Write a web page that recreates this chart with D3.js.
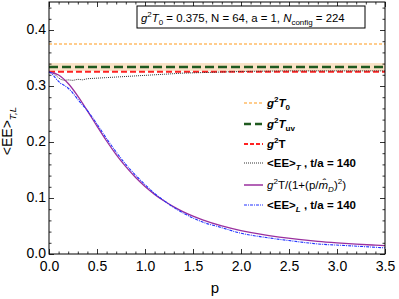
<!DOCTYPE html>
<html>
<head>
<meta charset="utf-8">
<script src="https://cdn.jsdelivr.net/npm/d3@7"></script>
<style>
  body { margin: 0; background: #fff; }
  svg { display: block; font-family: "Liberation Sans", Arial, sans-serif; }
</style>
</head>
<body>
<svg id="chart" width="399" height="299"></svg>
<script>
"use strict"

const WIDTH = 399;
const HEIGHT = 299;
const PLOT = { left: 49, right: 385, top: 2, bottom: 254 };

// constant levels
const G2T0 = 0.375;
const G2TUV = 0.334;
const G2T = 0.3255;
const TUV_BAND = [0.327, 0.341];

// <EE>_T , t/a = 140 (black dotted)
const EET_P = [0, 0.03, 0.06, 0.09, 0.12, 0.16, 0.2, 0.25, 0.3, 0.35, 0.4, 0.5, 0.6, 0.7, 0.8, 1.0, 1.2, 1.4, 1.6, 1.8, 2.0, 2.5, 3.0, 3.5];
const EET_V = [0.325, 0.324, 0.321, 0.316, 0.312, 0.310, 0.311, 0.310, 0.312, 0.311, 0.313, 0.314, 0.315, 0.316, 0.317, 0.319, 0.321, 0.323, 0.324, 0.325, 0.326, 0.327, 0.327, 0.327];

// g^2T/(1+(p/mD)^2) (purple)
const FIT_P = [0, 0.1, 0.2, 0.3, 0.4, 0.5, 0.6, 0.7, 0.8, 0.9, 1.0, 1.1, 1.2, 1.3, 1.4, 1.5, 1.6, 1.8, 2.0, 2.2, 2.4, 2.6, 2.8, 3.0, 3.2, 3.4, 3.5];
const FIT_V = [0.325, 0.3196, 0.3044, 0.2820, 0.2557, 0.2283, 0.2018, 0.1775, 0.1559, 0.1370, 0.1206, 0.1065, 0.0945, 0.0841, 0.0752, 0.0675, 0.0609, 0.0501, 0.0418, 0.0353, 0.0302, 0.0261, 0.0227, 0.0200, 0.0177, 0.0158, 0.0149];

// <EE>_L , t/a = 140 (blue dash-dot)
const EEL_P = [0, 0.03, 0.06, 0.09, 0.12, 0.15, 0.2, 0.25, 0.3, 0.35, 0.4, 0.5, 0.6, 0.7, 0.8, 0.9, 1.0, 1.1, 1.2, 1.3, 1.4, 1.6, 1.8, 2.0, 2.2, 2.5, 2.8, 3.1, 3.5];
const EEL_V = [0.325, 0.322, 0.316, 0.310, 0.305, 0.302, 0.296, 0.287, 0.276, 0.266, 0.256, 0.232, 0.206, 0.182, 0.160, 0.141, 0.124, 0.108, 0.095, 0.083, 0.073, 0.057, 0.047, 0.037, 0.031, 0.024, 0.018, 0.015, 0.011];

const X_TICKS = [0, 0.5, 1.0, 1.5, 2.0, 2.5, 3.0, 3.5];
const Y_TICKS = [0, 0.1, 0.2, 0.3, 0.4];

const svg = d3.select("#chart");
const x = d3.scaleLinear([0, 3.5], [PLOT.left, PLOT.right]);
const y = d3.scaleLinear([0, 0.45], [PLOT.bottom, PLOT.top]);

// write text made of pieces: {t, sup, sub, it}
function richText(g, parts, size) {
    const text = g.append("text").attr("font-size", size);
    let shift = 0;
    for (const p of parts) {
        let want = p.sup ? -0.4 * size : (p.sub ? 0.25 * size : 0);
        const ts = text.append("tspan").text(p.t)
            .attr("dy", want - shift)
            .attr("font-size", (p.sup || p.sub) ? size * 0.7 : size);
        if (p.it) ts.attr("font-style", "italic");
        if (p.w) ts.attr("font-weight", p.w);
        shift = want;
    }
    return text;
}

// band and constant lines
svg.append("rect")
    .attr("x", PLOT.left).attr("width", PLOT.right - PLOT.left)
    .attr("y", y(TUV_BAND[1])).attr("height", y(TUV_BAND[0]) - y(TUV_BAND[1]))
    .attr("fill", "#f9e2c6");

function hline(v, color, dash, w) {
    svg.append("line")
        .attr("x1", PLOT.left).attr("x2", PLOT.right)
        .attr("y1", y(v)).attr("y2", y(v))
        .attr("stroke", color).attr("stroke-width", w)
        .attr("stroke-dasharray", dash);
}
hline(G2T0, "#ff9a1a", "3,2", 1.2);
hline(G2TUV, "#1f5a1f", "9,4", 2.6);
hline(G2T, "#ff2222", "6,3", 2);

const line = d3.line().x(d => x(d[0])).y(d => y(d[1]));
const zip = (a, b) => a.map((v, i) => [v, b[i]]);

svg.append("path").attr("d", line(zip(EET_P, EET_V)))
    .attr("fill", "none").attr("stroke", "#333").attr("stroke-width", 1)
    .attr("stroke-dasharray", "1,1");
svg.append("path").attr("d", line.curve(d3.curveMonotoneX)(zip(FIT_P, FIT_V)))
    .attr("fill", "none").attr("stroke", "#9a2f9e").attr("stroke-width", 1.3);
svg.append("path").attr("d", line(zip(EEL_P, EEL_V)))
    .attr("fill", "none").attr("stroke", "#2233ff").attr("stroke-width", 1.1)
    .attr("stroke-dasharray", "3,1,1,1");

// axes, ticks pointing inward
const xMinor = d3.range(0, 3.51, 0.1).filter(v => Math.abs(v * 2 - Math.round(v * 2)) > 0.01);
const yMinor = d3.range(0, 0.451, 0.02).filter(v => Math.abs(v * 10 - Math.round(v * 10)) > 0.01);

function addAxis(axisFn, scale, pos, major, minor, labels) {
    const g = svg.append("g").attr("transform", pos);
    g.call(axisFn(scale).tickValues(minor).tickSize(-2.5).tickFormat(""));
    const g2 = svg.append("g").attr("transform", pos);
    const ax = axisFn(scale).tickValues(major).tickSize(-5);
    if (labels) ax.tickFormat(d3.format(".1f")).tickPadding(labels);
    else ax.tickFormat("");
    g2.call(ax);
    for (const gg of [g, g2]) {
        gg.select(".domain").remove();
        gg.selectAll("line").attr("stroke", "#000").attr("stroke-width", 0.8);
        gg.selectAll("text").attr("font-size", 14).attr("fill", "#000")
            .attr("font-family", "Liberation Sans, Arial, sans-serif");
    }
    return g2;
}
addAxis(d3.axisBottom, x, `translate(0,${PLOT.bottom})`, X_TICKS, xMinor, 7);
addAxis(d3.axisTop, x, `translate(0,${PLOT.top})`, X_TICKS, xMinor, 0);
addAxis(d3.axisLeft, y, `translate(${PLOT.left},0)`, Y_TICKS, yMinor, 3)
    .selectAll("text").attr("dy", "0.28em");
addAxis(d3.axisRight, y, `translate(${PLOT.right},0)`, Y_TICKS, yMinor, 0);

svg.append("rect")
    .attr("x", PLOT.left).attr("y", PLOT.top)
    .attr("width", PLOT.right - PLOT.left).attr("height", PLOT.bottom - PLOT.top)
    .attr("fill", "none").attr("stroke", "#000").attr("stroke-width", 1);

// axis titles
svg.append("text").attr("x", 215).attr("y", 293).attr("text-anchor", "middle")
    .attr("font-size", 15).text("p");
const yl = svg.append("g").attr("transform", "translate(12,131) rotate(-90)");
richText(yl, [{ t: "<EE>" }, { t: "T,L", sub: true, it: true }], 14)
    .attr("text-anchor", "middle");

// info box
svg.append("rect").attr("x", 137).attr("y", 6).attr("width", 228).attr("height", 22)
    .attr("fill", "#fff").attr("stroke", "#000").attr("stroke-width", 1);
richText(svg.append("g").attr("transform", "translate(141,22)"), [
    { t: "g", it: true }, { t: "2", sup: true }, { t: "T", it: true }, { t: "0", sub: true },
    { t: "  = 0.375,  N = 64, a = 1, " }, { t: "N", it: true }, { t: "config", sub: true },
    { t: " = 224" }], 11.4);

// legend
const LEG = [
    { yy: 103, color: "#ff9a1a", dash: "3,2", w: 1.2,
      parts: [{ t: "g", it: true }, { t: "2", sup: true }, { t: "T", it: true }, { t: "0", sub: true }] },
    { yy: 124, color: "#1f5a1f", dash: "7,4", w: 2.6,
      parts: [{ t: "g", it: true }, { t: "2", sup: true }, { t: "T", it: true }, { t: "uv", sub: true }] },
    { yy: 144, color: "#ff2222", dash: "4,2", w: 2,
      parts: [{ t: "g", it: true }, { t: "2", sup: true }, { t: "T" }] },
    { yy: 163, color: "#333", dash: "1,1", w: 1,
      parts: [{ t: "<EE>" }, { t: "T", sub: true, it: true }, { t: " ,  t/a = 140" }] },
    { yy: 185, color: "#9a2f9e", dash: null, w: 1.5,
      parts: [{ t: "g", it: true, w: "normal" }, { t: "2", sup: true, w: "normal" }, { t: "T/(1+(p/", w: "normal" },
              { t: "m\u0302", it: true, w: "normal" }, { t: "D", sub: true, it: true, w: "normal" },
              { t: ")", w: "normal" }, { t: "2", sup: true, w: "normal" }, { t: ")", w: "normal" }] },
    { yy: 205, color: "#2233ff", dash: "3,1,1,1", w: 1.1,
      parts: [{ t: "<EE>" }, { t: "L", sub: true, it: true }, { t: " ,  t/a = 140" }] }
];
for (const it of LEG) {
    const l = svg.append("line").attr("x1", 244).attr("x2", 263)
        .attr("y1", it.yy).attr("y2", it.yy)
        .attr("stroke", it.color).attr("stroke-width", it.w);
    if (it.dash) l.attr("stroke-dasharray", it.dash);
    richText(svg.append("g").attr("transform", `translate(267,${it.yy + 4})`), it.parts, 11.5)
        .attr("font-weight", "bold");
}
</script>
</body>
</html>
